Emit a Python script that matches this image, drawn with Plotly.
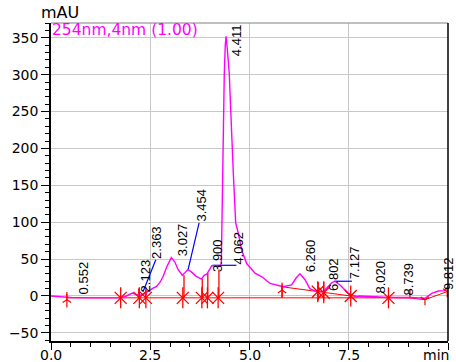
import plotly.graph_objects as go

# ---- chromatogram trace (min, mAU) ----
time_min = [0.0, 0.3, 0.5, 1.0, 1.5, 1.75, 1.9, 2.05, 2.15, 2.25, 2.35, 2.45, 2.55, 2.66,
            2.75, 2.82, 2.92, 3.03, 3.12, 3.2, 3.31, 3.38, 3.45, 3.55, 3.65, 3.79, 3.86,
            3.93, 4.0, 4.05, 4.15, 4.25, 4.29, 4.307, 4.325, 4.34, 4.365, 4.39, 4.41,
            4.44, 4.49, 4.527, 4.567, 4.592, 4.652, 4.718, 4.804, 4.93, 5.14, 5.31,
            5.52, 5.85, 6.06, 6.17, 6.27, 6.4, 6.52, 6.69, 6.86, 7.0, 7.07, 7.15, 7.28,
            7.49, 7.7, 7.78, 8.5, 9.04, 9.42, 9.59, 9.76, 9.92, 9.98, 10.0]
signal_mau = [0, -1.5, -2, -2.5, -3, -2.5, 0, 4, 2, 1, 3, 7, 10, 13,
              19, 26, 40, 52, 46, 36, 28, 32, 36, 32, 27, 23, 28,
              30, 36, 41, 41, 40, 44, 120, 198, 252, 302, 340, 352,
              335, 302, 252, 211, 167, 99, 85, 62, 44, 31, 26,
              17, 12.6, 15, 24, 30, 22, 10, 6, 6, 14, 18, 20, 15,
              3.6, -1, 0, -2, -2, -3, 3.6, 6.8, 7.2, 12.6, 13]

# ---- peak labels ----
peak_labels = ["0.552", "2.123", "2.363", "3.027", "3.454", "3.900", "4.062", "4.411",
               "6.260", "6.802", "7.127", "8.020", "8.739", "9.812"]
label_time = [0.83, 2.39, 2.66, 3.32, 3.78, 4.19, 4.72, 4.69,
              6.54, 7.10, 7.63, 8.29, 9.00, 10.0]
label_mau = [1.4, 4, 49, 53, 99, 31, 41, 324,
             31, 6, 22, 1.4, -1, 6]

# ---- integration baseline (red) ----
base_main_t = [0.4, 8.5]
base_main_v = [-2.5, -2.5]
base_b_t = [5.82, 6.72, 6.87, 7.55, 8.5]
base_b_v = [12.5, 5.8, 4.5, 0, -2.5]
base_c_t = [8.5, 9.04, 9.42, 9.98]
base_c_v = [-2.5, -2.8, -5, 6]

star_t = [1.755, 2.225, 2.39, 3.32, 3.80, 3.94, 4.21, 6.72, 6.87, 7.55, 8.5]
star_v = [-2.5, -2.5, -2.5, -2.5, -2.5, -2.5, -2.5, 5.8, 4.5, 0, -2.5]
arrow_up_t = [0.4, 5.82]
arrow_up_v = [-5, 8]
arrow_dn_t = [9.42, 9.98]
arrow_dn_v = [-5, 6]

drop_t = [2.21, 2.39, 3.35, 3.81, 3.95, 4.23, 5.82, 6.73, 6.87, 9.04]
drop_top = [10, 8, 28, 23, 31, 36, 12.5, 19, 20, 8]
drop_bottom = [-2.5, -2.5, -2.5, -2.5, -2.5, -2.5, -2.5, -6, -6, -3]

# ---- label leader lines (blue) ----
leader_t = [[2.32, 2.64], [3.45, 3.73], [4.07, 4.67], [7.14, 7.58]]
leader_v = [[6, 49], [35, 99], [41.6, 41.6], [20, 20]]

y_ticks = [-50, 0, 50, 100, 150, 200, 250, 300, 350]
x_ticks = [0, 2.5, 5.0, 7.5, 10]
x_ticktext = ["0.0", "2.5", "5.0", "7.5", ""]
x_unit = "min"

RED = "#ff0000"
MAG = "#ff00ff"
BLUE = "#0000ff"
TICKFONT = dict(family="DejaVu Sans", size=14, color="black")

fig = go.Figure()

# baseline lines
for bt, bv in [(base_main_t, base_main_v), (base_b_t, base_b_v), (base_c_t, base_c_v)]:
    fig.add_trace(go.Scatter(x=bt, y=bv, mode="lines", line=dict(color=RED, width=1),
                             hoverinfo="skip", showlegend=False))

# drop lines
dx, dy = [], []
for t, top, bot in zip(drop_t, drop_top, drop_bottom):
    dx += [t, t, None]
    dy += [bot, top, None]
fig.add_trace(go.Scatter(x=dx, y=dy, mode="lines", line=dict(color=RED, width=1.3),
                         hoverinfo="skip", showlegend=False))

# leader lines
lx, ly = [], []
for ts, vs in zip(leader_t, leader_v):
    lx += ts + [None]
    ly += vs + [None]
fig.add_trace(go.Scatter(x=lx, y=ly, mode="lines", line=dict(color=BLUE, width=1.2),
                         hoverinfo="skip", showlegend=False))

# chromatogram
fig.add_trace(go.Scatter(x=time_min, y=signal_mau, mode="lines",
                         line=dict(color=MAG, width=1.4), showlegend=False))

# markers
for sym, size in [("x-thin-open", 12), ("line-ns-open", 15)]:
    fig.add_trace(go.Scatter(x=star_t, y=star_v, mode="markers",
                             marker=dict(symbol=sym, size=size, color=RED,
                                         line=dict(color=RED, width=1.3)),
                             hoverinfo="skip", showlegend=False))
for sym, size in [("y-up-open", 7), ("line-ns-open", 11)]:
    fig.add_trace(go.Scatter(x=arrow_up_t, y=arrow_up_v, mode="markers",
                             marker=dict(symbol=sym, size=size, color=RED,
                                         line=dict(color=RED, width=1.2)),
                             hoverinfo="skip", showlegend=False))
fig.add_trace(go.Scatter(x=arrow_dn_t, y=arrow_dn_v, mode="markers",
                         marker=dict(symbol="y-down-open", size=7, color=RED,
                                     line=dict(color=RED, width=1.2)),
                         hoverinfo="skip", showlegend=False))

# peak labels
for txt, t, v in zip(peak_labels, label_time, label_mau):
    fig.add_annotation(x=t, y=v, xref="x", yref="y", text=txt, showarrow=False,
                       textangle=-90, xanchor="center", yanchor="bottom",
                       font=dict(family="Liberation Sans", size=13, color="black"),
                       borderpad=0)

# x tick labels (drawn as text just under the axis)
for tv, tt in zip(x_ticks, x_ticktext):
    if tt:
        fig.add_annotation(x=tv, y=0, xref="x", yref="paper", text=tt, showarrow=False,
                           xanchor="center", yanchor="top", yshift=-5,
                           font=TICKFONT, borderpad=0)
fig.add_annotation(x=x_ticks[-1], y=0, xref="x", yref="paper", text=x_unit,
                   showarrow=False, xanchor="right", yanchor="top", xshift=2, yshift=-5,
                   font=TICKFONT, borderpad=0)

# header texts
fig.add_annotation(x=0, y=1, xref="paper", yref="paper", text="254nm,4nm (1.00)",
                   showarrow=False, xanchor="left", yanchor="top", yshift=3,
                   font=dict(family="DejaVu Sans", size=15.5, color=MAG), borderpad=0)
fig.add_annotation(x=0, y=1, xref="paper", yref="paper", text="mAU",
                   showarrow=False, xanchor="left", yanchor="bottom", xshift=-11,
                   font=dict(family="DejaVu Sans", size=16, color="black"), borderpad=0)

# frame: top (gray) and right (black)
fig.add_shape(type="line", xref="paper", yref="paper", x0=0, x1=1, y0=1, y1=1,
              line=dict(color="#808080", width=1))
fig.add_shape(type="line", xref="paper", yref="paper", x0=1, x1=1, y0=0, y1=1,
              line=dict(color="black", width=1.5))

fig.update_layout(
    width=456, height=362,
    margin=dict(l=51, r=8, t=23, b=21, autoexpand=False),
    plot_bgcolor="white", paper_bgcolor="white",
    xaxis=dict(range=[0, 10], tickvals=x_ticks, showticklabels=False, automargin=False,
               ticks="outside", ticklen=7, tickcolor="black", tickwidth=1,
               showline=True, linecolor="black", linewidth=1.5,
               showgrid=True, gridcolor="#c8c8c8", gridwidth=1, zeroline=False,
               minor=dict(dtick=0.5, ticks="outside", ticklen=4, tickcolor="black",
                          showgrid=False)),
    yaxis=dict(range=[-61, 370], tickvals=y_ticks, automargin=False,
               ticks="outside", ticklen=8, tickcolor="black", tickwidth=1,
               showline=True, linecolor="black", linewidth=1.5,
               showgrid=True, gridcolor="#c8c8c8", gridwidth=1, zeroline=False,
               tickfont=TICKFONT,
               minor=dict(dtick=10, ticks="outside", ticklen=4, tickcolor="black",
                          showgrid=False)),
)

fig.write_html("out.html")
